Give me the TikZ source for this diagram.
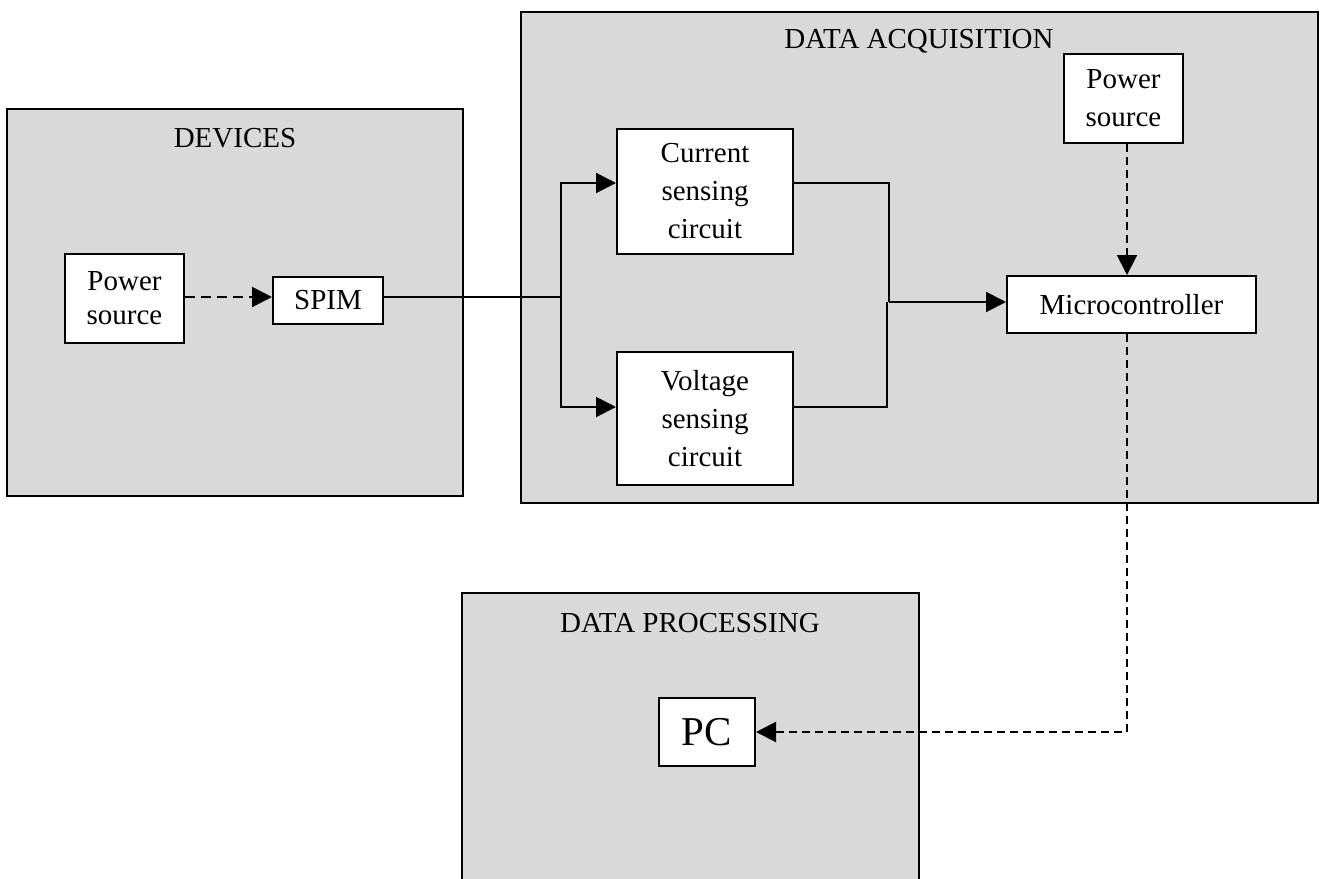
\documentclass[tikz,border=0pt]{standalone}
\usepackage{fontspec}
\setmainfont{Liberation Serif}
\usetikzlibrary{arrows.meta}
\definecolor{framegray}{RGB}{217,217,217}
\begin{document}
\begin{tikzpicture}[x=0.5pt,y=-0.5pt,
  font=\fontsize{14.5pt}{19pt}\selectfont,
  frame/.style={draw=black, line width=1pt, fill=framegray, inner sep=0pt},
  blk/.style={draw=black, line width=1pt, fill=white, align=center, inner sep=0pt},
  title/.style={anchor=base, inner sep=0pt},
  conn/.style={line width=1pt},
  dsh/.style={line width=1pt, dash pattern=on 4pt off 2.5pt},
  longdsh/.style={line width=1pt, dash pattern=on 5pt off 3pt},
  tip/.style={-{Triangle[length=10pt,width=10pt]}}]
\useasboundingbox (0,0) rectangle (1321,878);
\clip (0,0) rectangle (1321,878);
% frames
\node[frame, minimum width=228pt, minimum height=193.5pt] (dev) at (235,302.5) {};
\node[frame, minimum width=398.5pt, minimum height=245.5pt] (dacq) at (919.5,257.5) {};
\node[frame, minimum width=228.5pt, minimum height=153.5pt] (dproc) at (690.5,746.5) {};
\node[title] (devt) at (235,147) {DEVICES};
\node[title] (dacqt) at (919,48) {DATA ACQUISITION};
\node[title] (dproct) at (690,632) {DATA PROCESSING};
% blocks
\node[blk, minimum width=59.5pt, minimum height=44.5pt, font=\fontsize{14.5pt}{17pt}\selectfont] (pwrA) at (124.5,298.5) {Power\\source};
\node[blk, minimum width=55pt, minimum height=23.5pt] (spim) at (328,300.5) {SPIM};
\node[blk, minimum width=88pt, minimum height=62.5pt] (cur) at (705,191.5) {Current\\sensing\\circuit};
\node[blk, minimum width=88pt, minimum height=66.5pt] (vol) at (705,418.5) {Voltage\\sensing\\circuit};
\node[blk, minimum width=59.5pt, minimum height=44.5pt] (pwrB) at (1123.5,98.5) {Power\\source};
\node[blk, minimum width=124.5pt, minimum height=28.5pt] (mc) at (1131.5,304.5) {Microcontroller};
\node[blk, minimum width=48pt, minimum height=34pt, font=\fontsize{20.5pt}{24pt}\selectfont] (pc) at (707,732) {PC};
% helper coordinates
\coordinate (j) at (561,297);
\coordinate (m1) at (889,302);
\coordinate (m2) at (887,302);
% connectors
\draw[longdsh,tip] ([yshift=0.75pt]pwrA.east) -- ([yshift=1.75pt]spim.west);
\draw[conn] ([yshift=1.75pt]spim.east) -- (j);
\draw[conn,tip] (j) |- ([yshift=4.25pt]cur.west);
\draw[conn,tip] (j) |- ([yshift=5.75pt]vol.west);
\draw[conn] ([yshift=4.25pt]cur.east) -| (m1);
\draw[conn,tip] (m1) -- ([yshift=1.25pt]mc.west);
\draw[conn] ([yshift=5.75pt]vol.east) -| (m2);
\draw[dsh,tip] ([xshift=1.75pt]pwrB.south) -- ([xshift=-2.25pt]mc.north);
\draw[dsh,tip] ([xshift=-2.25pt]mc.south) |- (pc.east);
\end{tikzpicture}
\end{document}
